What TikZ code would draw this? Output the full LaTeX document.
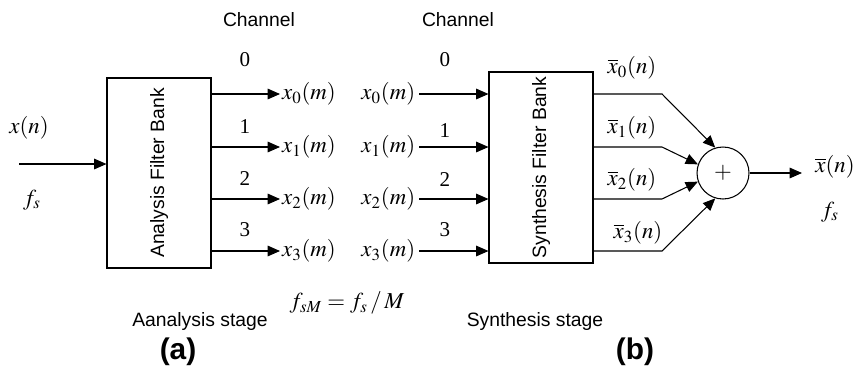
\documentclass[tikz,border=0pt]{standalone}
\usepackage{mathptmx}
\usepackage{fontspec}
\setmainfont{Liberation Serif}
\setsansfont{Liberation Sans}
\usetikzlibrary{arrows.meta}

\tikzset{
  sig/.style={line width=0.6pt,-{Triangle[length=7pt,width=6pt]}},
  fbank/.style={draw,line width=0.6pt,minimum width=2.08cm,inner sep=0pt},
  sflab/.style={font=\sffamily\fontsize{11}{13}\selectfont},
  chnum/.style={font=\fontsize{12}{14}\selectfont},
  fig/.style={font=\sffamily\bfseries\fontsize{17}{20}\selectfont},
}

\begin{document}
\begin{tikzpicture}[x=0.02cm,y=-0.02cm,font=\fontsize{13}{15}\selectfont]
\useasboundingbox (0,0) rectangle (857,369);

% filter banks
\node[fbank,minimum height=3.8cm] (ana) at (159,173) {};
\node[fbank,minimum height=3.82cm] (syn) at (541,167.5) {};
\node[sflab,rotate=90] (anatxt) at (ana) {Analysis Filter Bank};
\node[sflab,rotate=90] (syntxt) at (syn) {Synthesis Filter Bank};
\node[draw,circle,line width=0.6pt,minimum size=1.04cm,inner sep=0pt] (sum) at (723,173) {$+$};

% input
\coordinate (xin) at (19,164);
\node (xn) at (29,128) {$x(n)$};
\node (fsin) at (32,200) {$f_s$};
\draw[sig] (xin) -- (xin -| ana.west);

% channels
\node[sflab] (chA) at (259,20) {Channel};
\node[sflab] (chS) at (458,20) {Channel};
\foreach \k/\y/\ya/\yb in {0/94/60/60,1/147/127/131,2/199/179/180,3/251/230/230}{
  \node[anchor=west,inner sep=1pt] (a\k) at (280,\y) {$x_{\k}(m)$};
  \node[anchor=east,inner sep=2pt] (s\k) at (419,\y) {$x_{\k}(m)$};
  \node[chnum] (na\k) at (245,\ya) {\k};
  \node[chnum] (ns\k) at (445,\yb) {\k};
  \draw[sig] (ana.east |- a\k.west) -- (a\k.west);
  \draw[sig] (s\k.east) -- (s\k.east -| syn.west);
  \coordinate (b\k) at (662,\y);
}

% synthesis outputs
\node (xb0) at (632,68) {$\overline{x}_0(n)$};
\node (xb1) at (632,128) {$\overline{x}_1(n)$};
\node (xb2) at (632,180) {$\overline{x}_2(n)$};
\node (xb3) at (638,233) {$\overline{x}_3(n)$};
\draw[sig] (syn.east |- b0) -- (b0) -- (sum.107);
\draw[sig] (syn.east |- b1) -- (b1) -- (sum.161);
\draw[sig] (syn.east |- b2) -- (b2) -- (sum.199);
\draw[sig] (syn.east |- b3) -- (b3) -- (sum.253);

% output
\coordinate (xout) at (802,173);
\draw[sig] (sum.east) -- (xout);
\node (xbn) at (835,167) {$\overline{x}(n)$};
\node (fsout) at (830,212) {$f_s$};

% captions
\node (fsm) at (347,303) {$f_{sM} = f_s \,/\, M$};
\node[sflab] (anast) at (200,321) {Aanalysis stage};
\node[sflab] (synst) at (535,321) {Synthesis stage};
\node[fig] (figa) at (178,352) {(a)};
\node[fig] (figb) at (635,352) {(b)};
\end{tikzpicture}
\end{document}
